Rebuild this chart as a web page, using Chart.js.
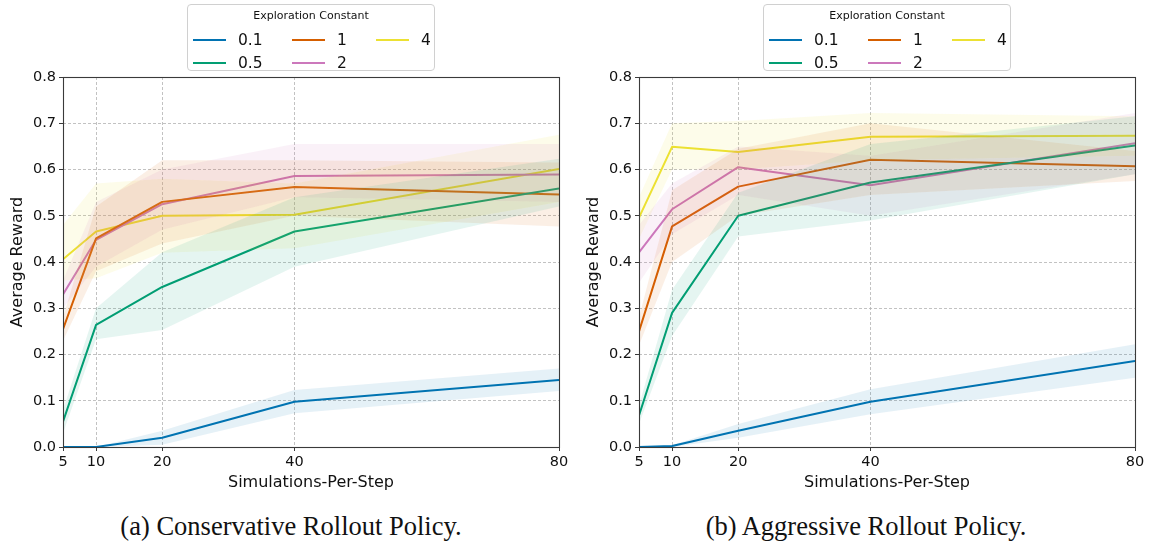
<!DOCTYPE html>
<html>
<head>
<meta charset="utf-8">
<script src="https://cdn.jsdelivr.net/npm/chart.js@4/dist/chart.umd.min.js"></script>
<style>
  html, body { margin: 0; padding: 0; background: #fff; }
  #wrap { position: relative; width: 1151px; height: 548px; overflow: hidden; font-family: "DejaVu Sans", sans-serif; }
  .panel { position: absolute; top: 0; }
  .legend {
    position: absolute; top: 4px; width: 248px; height: 67px;
    border: 1px solid #d0d0d0; border-radius: 4px; background: rgba(255,255,255,0.85);
    box-sizing: border-box;
  }
  .legend .title { position: absolute; left: 0; right: 0; top: 4px; text-align: center; font-size: 11px; color: #111; }
  .legend .item { position: absolute; height: 20px; }
  .legend .swatch { position: absolute; left: 0; top: 9px; width: 33px; height: 2px; }
  .legend .lab { position: absolute; left: 45px; top: 0; font-size: 15.5px; line-height: 20px; color: #111; white-space: nowrap; }
  .caption {
    position: absolute; top: 510px; width: 500px; text-align: center;
    font-family: "Liberation Serif", "Times New Roman", serif; font-size: 26.5px; line-height: 32px; color: #111;
  }
</style>
</head>
<body>
<div id="wrap">
  <canvas id="conservative" class="panel" style="left:0px"></canvas>
  <canvas id="aggressive" class="panel" style="left:576px"></canvas>
  <div class="caption" style="left:41px">(a) Conservative Rollout Policy.</div>
  <div class="caption" style="left:616px">(b) Aggressive Rollout Policy.</div>
</div>
<script>
// Simulations-per-step budgets on the x axis
const simulations = [5, 10, 20, 40, 80];
const xTicks = [5, 10, 20, 40, 80];
const yTicks = [0, 0.1, 0.2, 0.3, 0.4, 0.5, 0.6, 0.7, 0.8];

// Exploration constants and their colours
const constants = ['0.1', '0.5', '1', '2', '4'];
const colors = ['#0173b2', '#029e73', '#d55e00', '#cc78bc', '#ece133'];

// Conservative rollout policy: mean reward and confidence band
const consMean = [
  [0.000, 0.000, 0.020, 0.098, 0.145],
  [0.055, 0.264, 0.346, 0.466, 0.559],
  [0.255, 0.451, 0.530, 0.562, 0.546],
  [0.330, 0.448, 0.525, 0.586, 0.589],
  [0.406, 0.466, 0.500, 0.502, 0.601]
];
const consLow = [
  [0.000, 0.000, 0.005, 0.073, 0.121],
  [0.030, 0.233, 0.253, 0.390, 0.520],
  [0.230, 0.380, 0.440, 0.500, 0.477],
  [0.300, 0.390, 0.470, 0.540, 0.530],
  [0.360, 0.365, 0.420, 0.430, 0.530]
];
const consHigh = [
  [0.000, 0.000, 0.035, 0.123, 0.170],
  [0.080, 0.300, 0.421, 0.540, 0.623],
  [0.280, 0.520, 0.620, 0.620, 0.615],
  [0.360, 0.530, 0.600, 0.655, 0.655],
  [0.480, 0.570, 0.580, 0.570, 0.675]
];

// Aggressive rollout policy: mean reward and confidence band
const aggrMean = [
  [0.000, 0.002, 0.035, 0.098, 0.186],
  [0.068, 0.290, 0.500, 0.572, 0.652],
  [0.250, 0.477, 0.563, 0.621, 0.607],
  [0.421, 0.514, 0.605, 0.566, 0.657],
  [0.496, 0.649, 0.638, 0.671, 0.673]
];
const aggrLow = [
  [0.000, 0.000, 0.020, 0.071, 0.150],
  [0.050, 0.240, 0.455, 0.490, 0.590],
  [0.220, 0.400, 0.500, 0.545, 0.575],
  [0.355, 0.460, 0.545, 0.500, 0.590],
  [0.450, 0.600, 0.600, 0.620, 0.630]
];
const aggrHigh = [
  [0.000, 0.004, 0.050, 0.125, 0.222],
  [0.090, 0.340, 0.550, 0.655, 0.715],
  [0.280, 0.555, 0.645, 0.700, 0.640],
  [0.480, 0.570, 0.650, 0.630, 0.722],
  [0.540, 0.700, 0.705, 0.722, 0.715]
];

function rgba(hex, a) {
  const n = parseInt(hex.slice(1), 16);
  return `rgba(${(n >> 16) & 255},${(n >> 8) & 255},${n & 255},${a})`;
}
const pts = arr => simulations.map((x, i) => ({ x, y: arr[i] }));

function buildDatasets(mean, low, high) {
  const sets = [];
  constants.forEach((c, k) => {
    sets.push({ label: c + ' upper', data: pts(high[k]), borderWidth: 0, pointRadius: 0, fill: false, borderColor: 'transparent' });
    sets.push({ label: c + ' lower', data: pts(low[k]), borderWidth: 0, pointRadius: 0, fill: '-1',
                borderColor: 'transparent', backgroundColor: rgba(colors[k], 0.1) });
  });
  constants.forEach((c, k) => {
    sets.push({ label: c, data: pts(mean[k]), borderColor: colors[k], borderWidth: 2, pointRadius: 0,
                fill: false, tension: 0, borderCapStyle: 'butt', borderJoinStyle: 'round' });
  });
  return sets;
}

// Full axes frame drawn above the data, as in a boxed plot
const frame = {
  id: 'frame',
  afterDatasetsDraw(chart) {
    const { ctx, chartArea: a } = chart;
    ctx.save();
    ctx.strokeStyle = '#3a3a3a';
    ctx.lineWidth = 1.1;
    ctx.strokeRect(Math.round(a.left) + 0.5, Math.round(a.top) + 0.5,
                   Math.round(a.right - a.left), Math.round(a.bottom - a.top));
    ctx.restore();
  }
};

const tickFont = { family: 'DejaVu Sans', size: 14.5 };
const titleFont = { family: 'DejaVu Sans', size: 16 };
const grid = {
  color: '#b3b3b3', lineWidth: 0.8,
  drawTicks: true, tickLength: 4, tickColor: '#3a3a3a', tickWidth: 1, tickBorderDash: []
};
const border = { display: false, dash: [3, 2] };

function makeChart(id, width, padRight, mean, low, high) {
  const cv = document.getElementById(id);
  cv.width = width; cv.height = 500;
  cv.style.width = width + 'px'; cv.style.height = '500px';
  return new Chart(cv, {
    type: 'line',
    data: { datasets: buildDatasets(mean, low, high) },
    options: {
      responsive: false, animation: false, devicePixelRatio: 1,
      layout: { padding: { top: 77, right: padRight, left: 0, bottom: 0 } },
      plugins: { legend: { display: false }, tooltip: { enabled: false }, filler: { propagate: false } },
      scales: {
        x: {
          type: 'linear', min: 5, max: 80,
          afterBuildTicks: s => { s.ticks = xTicks.map(v => ({ value: v })); },
          afterFit: s => { s.height = 53; },
          ticks: { font: tickFont, color: '#111', padding: 3, maxRotation: 0, autoSkip: false },
          grid: grid, border: border,
          title: { display: true, text: 'Simulations-Per-Step', font: titleFont, color: '#111', padding: { top: 0, bottom: 8 } }
        },
        y: {
          min: 0, max: 0.8,
          afterBuildTicks: s => { s.ticks = yTicks.map(v => ({ value: v })); },
          afterFit: s => { s.width = 63; },
          ticks: { font: tickFont, color: '#111', padding: 3, callback: v => v.toFixed(1) },
          grid: grid, border: border,
          title: { display: true, text: 'Average Reward', font: titleFont, color: '#111', padding: { top: 8, bottom: 0 } }
        }
      }
    },
    plugins: [frame]
  });
}

makeChart('conservative', 576, 17, consMean, consLow, consHigh);
makeChart('aggressive', 575, 16, aggrMean, aggrLow, aggrHigh);

// Legends: three columns, filled column by column
function makeLegend(left) {
  const box = document.createElement('div');
  box.className = 'legend';
  box.style.left = left + 'px';
  const t = document.createElement('div');
  t.className = 'title';
  t.textContent = 'Exploration Constant';
  box.appendChild(t);
  const colX = [5, 104, 188];
  const rowY = [25, 48];
  constants.forEach((c, k) => {
    const col = Math.floor(k / 2), row = k % 2;
    const it = document.createElement('div');
    it.className = 'item';
    it.style.left = colX[col] + 'px';
    it.style.top = rowY[row] + 'px';
    const sw = document.createElement('div');
    sw.className = 'swatch';
    sw.style.background = colors[k];
    const lab = document.createElement('div');
    lab.className = 'lab';
    lab.textContent = c;
    it.appendChild(sw); it.appendChild(lab);
    box.appendChild(it);
  });
  document.getElementById('wrap').appendChild(box);
}
makeLegend(187);
makeLegend(763);
</script>
</body>
</html>
